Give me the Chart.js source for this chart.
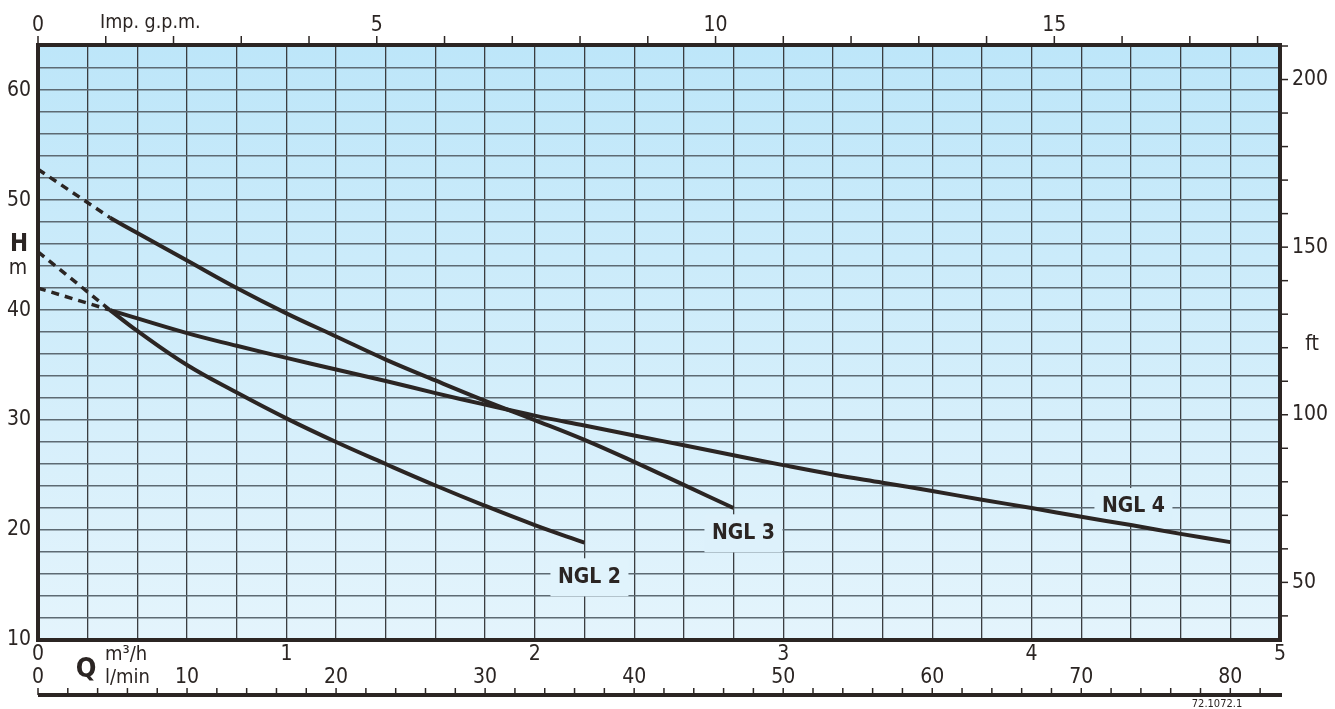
<!DOCTYPE html>
<html>
<head>
<meta charset="utf-8">
<script src="https://cdn.jsdelivr.net/npm/chart.js@4"></script>
<style>
  html, body { margin: 0; padding: 0; background: #fff; }
</style>
</head>
<body>
<canvas id="pumpChart" width="1335" height="709"></canvas>
<script>
// Tick labels for the extra axes
const hTicks = [10, 20, 30, 40, 50, 60];
const ftTicks = [50, 100, 150, 200];
const gpmTicks = [0, 5, 10, 15];
const m3hTicks = [0, 1, 2, 3, 4, 5];
const lminTicks = [0, 10, 20, 30, 40, 50, 60, 70, 80];

// Pump curves: Q in m3/h, H in m
const ngl2Q = [0.29, 0.4, 0.6, 0.8, 1.0, 1.2, 1.4, 1.6, 1.8, 2.0, 2.2];
const ngl2H = [40, 38.1, 35.0, 32.5, 30.15, 28.0, 26.0, 24.05, 22.2, 20.45, 18.85];
const ngl3Q = [0.29, 0.4, 0.6, 0.8, 1.0, 1.2, 1.4, 1.6, 1.8, 2.0, 2.2, 2.4, 2.6, 2.8];
const ngl3H = [48.4, 47.0, 44.5, 42.0, 39.7, 37.6, 35.5, 33.6, 31.75, 30.0, 28.2, 26.2, 24.1, 22.0];
const ngl4Q = [0.29, 0.6, 0.8, 1.0, 1.2, 1.4, 1.6, 1.8, 2.0, 2.2, 2.4, 2.6, 2.8, 3.0, 3.2, 3.4, 3.6, 3.8, 4.0, 4.2, 4.4, 4.6, 4.8];
const ngl4H = [40, 37.9, 36.75, 35.65, 34.6, 33.55, 32.45, 31.4, 30.4, 29.5, 28.6, 27.7, 26.8, 25.9, 25.05, 24.3, 23.55, 22.75, 22.0, 21.2, 20.45, 19.65, 18.9];

// Dashed extrapolations to zero flow
const ngl2DashQ = [0, 0.29];
const ngl2DashH = [45.3, 40];
const ngl3DashQ = [0, 0.29];
const ngl3DashH = [52.8, 48.4];
const ngl4DashQ = [0, 0.29];
const ngl4DashH = [42.0, 40];

// Curve names and where they sit (Q, H)
const curveNames = ['NGL 2', 'NGL 3', 'NGL 4'];
const nameQ = [2.22, 2.84, 4.41];
const nameH = [15.7, 19.7, 22.1];

const GPM_TO_M3H = 0.272765;
const FT_TO_M = 0.3048;
const LMIN_TO_M3H = 0.06;

const ink = '#2b2523';
const bgTop = [189, 230, 249];
const bgBottom = [228, 244, 252];
const fontFam = '"DejaVu Sans Condensed", "DejaVu Sans", sans-serif';

function toPoints(qs, hs) {
    return qs.map((q, i) => ({ x: q, y: hs[i] }));
}

function solid(qs, hs) {
    return {
        data: toPoints(qs, hs),
        borderColor: ink,
        borderWidth: 4,
        pointRadius: 0,
        tension: 0.4,
        borderCapStyle: 'butt'
    };
}

function dashed(qs, hs) {
    return {
        data: toPoints(qs, hs),
        borderColor: ink,
        borderWidth: 3.5,
        borderDash: [8, 6],
        pointRadius: 0
    };
}

function bgAt(y, area) {
    const t = Math.min(1, Math.max(0, (y - area.top) / (area.bottom - area.top)));
    const c = bgTop.map((v, i) => Math.round(v + (bgBottom[i] - v) * t));
    return `rgb(${c[0]},${c[1]},${c[2]})`;
}

function text(ctx, str, x, y, size, align, bold) {
    ctx.font = `${bold ? 'bold ' : ''}${size}px ${fontFam}`;
    ctx.textAlign = align;
    ctx.textBaseline = 'middle';
    ctx.fillText(str, x, y);
}

const overlay = {
    id: 'overlay',
    beforeDraw(chart) {
        const { ctx, chartArea: a } = chart;
        const g = ctx.createLinearGradient(0, a.top, 0, a.bottom);
        g.addColorStop(0, `rgb(${bgTop.join(',')})`);
        g.addColorStop(1, `rgb(${bgBottom.join(',')})`);
        ctx.save();
        ctx.fillStyle = g;
        ctx.fillRect(a.left, a.top, a.right - a.left, a.bottom - a.top);
        ctx.restore();
    },
    beforeDatasetsDraw(chart) {
        // curve name boxes hide the grid lines behind them
        const { ctx, chartArea: a, scales: { x, y } } = chart;
        ctx.save();
        curveNames.forEach((name, i) => {
            const px = x.getPixelForValue(nameQ[i]);
            const py = y.getPixelForValue(nameH[i]);
            ctx.fillStyle = bgAt(py, a);
            ctx.fillRect(px - 39, py - 19, 78, 38);
        });
        ctx.restore();
    },
    afterDraw(chart) {
        const { ctx, chartArea: a, scales: { x, y } } = chart;
        ctx.save();
        ctx.fillStyle = ink;
        ctx.strokeStyle = ink;

        // curve names
        curveNames.forEach((name, i) => {
            text(ctx, name, x.getPixelForValue(nameQ[i]), y.getPixelForValue(nameH[i]), 21, 'center', true);
        });

        // frame
        ctx.lineWidth = 4;
        ctx.strokeRect(a.left, a.top, a.right - a.left, a.bottom - a.top);

        // left axis: H in m
        hTicks.forEach(v => text(ctx, String(v), 31, y.getPixelForValue(v), 21, 'right'));
        text(ctx, 'H', 19, 245, 24, 'center', true);
        text(ctx, 'm', 18, 269, 21, 'center');

        // right axis: ft
        ctx.lineWidth = 1.5;
        for (let f = 40; f <= 210; f += 10) {
            const py = y.getPixelForValue(f * FT_TO_M);
            ctx.beginPath();
            ctx.moveTo(a.right, py);
            ctx.lineTo(a.right + 8, py);
            ctx.stroke();
        }
        ftTicks.forEach(f => text(ctx, String(f), a.right + 12, y.getPixelForValue(f * FT_TO_M), 21, 'left'));
        text(ctx, 'ft', a.right + 32, 345, 21, 'center');

        // top axis: Imp. g.p.m.
        for (let gp = 0; gp <= 18; gp++) {
            const px = x.getPixelForValue(gp * GPM_TO_M3H);
            ctx.beginPath();
            ctx.moveTo(px, a.top);
            ctx.lineTo(px, a.top - 9);
            ctx.stroke();
        }
        gpmTicks.forEach(gp => text(ctx, String(gp), x.getPixelForValue(gp * GPM_TO_M3H), 26, 21, 'center'));
        text(ctx, 'Imp. g.p.m.', 100, 23, 19.5, 'left');

        // bottom axis: m3/h
        m3hTicks.forEach(q => text(ctx, String(q), x.getPixelForValue(q), 655, 21, 'center'));
        text(ctx, 'm³/h', 105, 655, 20, 'left');
        text(ctx, 'Q', 86, 670, 27, 'center', true);

        // bottom axis: l/min
        lminTicks.forEach(l => text(ctx, String(l), x.getPixelForValue(l * LMIN_TO_M3H), 678, 21, 'center'));
        text(ctx, 'l/min', 105, 678, 20, 'left');
        const baseY = 695;
        ctx.lineWidth = 4;
        ctx.beginPath();
        ctx.moveTo(x.getPixelForValue(0), baseY);
        ctx.lineTo(x.getPixelForValue(5) + 2, baseY);
        ctx.stroke();
        ctx.lineWidth = 1.5;
        for (let l = 0; l <= 82; l += 2) {
            const px = x.getPixelForValue(l * LMIN_TO_M3H);
            ctx.beginPath();
            ctx.moveTo(px, baseY);
            ctx.lineTo(px, baseY - 7);
            ctx.stroke();
        }
        text(ctx, '72.1072.1', 1217, 704, 11, 'center');
        ctx.restore();
    }
};

const ctx = document.getElementById('pumpChart').getContext('2d');
new Chart(ctx, {
    type: 'line',
    data: {
        datasets: [
            solid(ngl2Q, ngl2H),
            solid(ngl3Q, ngl3H),
            solid(ngl4Q, ngl4H),
            dashed(ngl2DashQ, ngl2DashH),
            dashed(ngl3DashQ, ngl3DashH),
            dashed(ngl4DashQ, ngl4DashH)
        ]
    },
    options: {
        responsive: false,
        animation: false,
        layout: { padding: { left: 38, right: 55, top: 45, bottom: 69 } },
        plugins: { legend: { display: false }, tooltip: { enabled: false } },
        scales: {
            x: {
                type: 'linear',
                min: 0,
                max: 5,
                ticks: { display: false, stepSize: 0.2 },
                grid: { color: '#3a3d40', lineWidth: 1.3, drawTicks: false },
                border: { display: false },
                afterFit: s => { s.height = 0; }
            },
            y: {
                type: 'linear',
                min: 10,
                max: 64.1,
                ticks: { display: false, stepSize: 2 },
                grid: { color: '#5d6a73', lineWidth: 1.6, drawTicks: false },
                border: { display: false },
                afterFit: s => { s.width = 0; }
            }
        }
    },
    plugins: [overlay]
});
</script>
</body>
</html>
